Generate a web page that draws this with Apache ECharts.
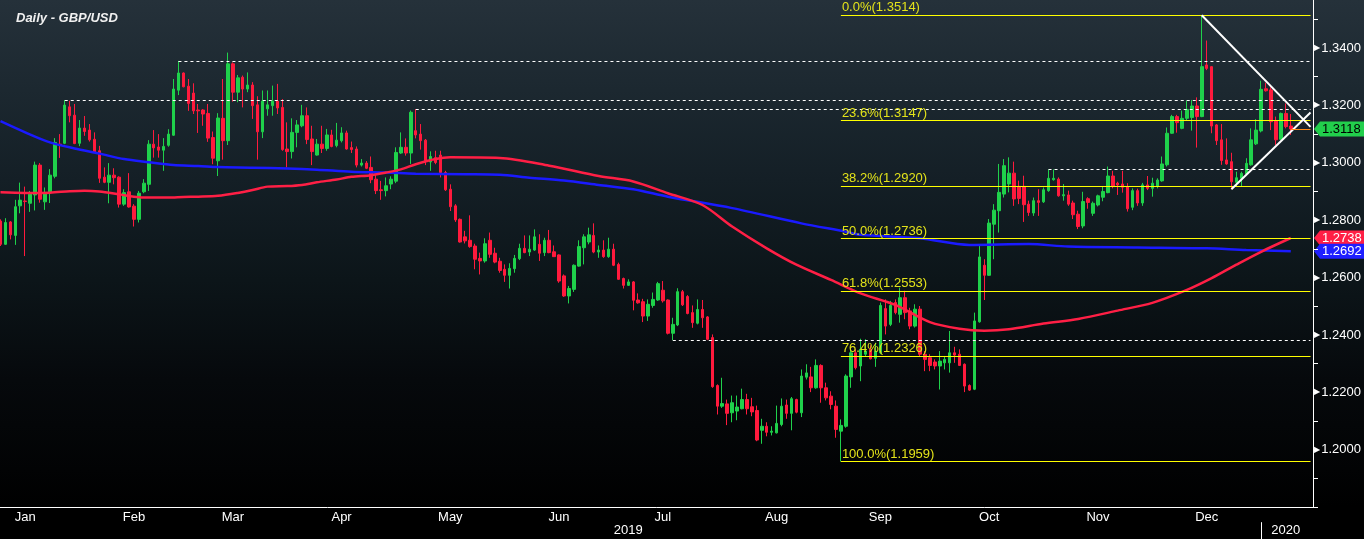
<!DOCTYPE html>
<html>
<head>
<meta charset="utf-8">
<title>Daily - GBP/USD</title>
<script src="https://cdn.jsdelivr.net/npm/echarts@6/dist/echarts.min.js"></script>
<style>
  html, body { margin: 0; padding: 0; background: #000; }
  #main {
    width: 1364px; height: 539px;
    background: linear-gradient(to bottom, #25313a 0px, #1c2830 90px, #141f26 180px, #0c1519 280px, #06090c 380px, #020304 470px, #000 506px, #000 539px);
  }
</style>
</head>
<body>
<div id="main"></div>
<script>
// daily candles, first one is 2019-01-09 ; [open, close, low, high]
const candles = [
  // Jan
  [1.2797,1.2716,1.2710,1.2803],[1.2716,1.2792,1.2714,1.2807],[1.2794,1.2749,1.2733,1.2797],[1.2747,1.2847,1.2714,1.2871],
  [1.2850,1.2870,1.2824,1.2931],[1.2867,1.2865,1.2675,1.2917],[1.2859,1.2891,1.2829,1.2902],[1.2888,1.2992,1.2834,1.3004],
  [1.2992,1.2873,1.2861,1.2999],[1.2864,1.2896,1.2836,1.2914],[1.2896,1.2957,1.2860,1.2978],[1.2953,1.3071,1.2946,1.3086],
  [1.3065,1.3062,1.3017,1.3100],[1.3068,1.3201,1.3065,1.3218],[1.3195,1.3164,1.3141,1.3216],[1.3166,1.3067,1.3065,1.3205],
  [1.3068,1.3121,1.3058,1.3149],
  // Feb
  [1.3121,1.3109,1.3094,1.3163],[1.3114,1.3080,1.3074,1.3135],[1.3082,1.3036,1.3034,1.3106],[1.3042,1.2946,1.2930,1.3059],
  [1.2950,1.2932,1.2929,1.2984],[1.2932,1.2957,1.2859,1.2999],[1.2957,1.2948,1.2925,1.2981],[1.2950,1.2856,1.2844,1.2953],
  [1.2856,1.2896,1.2850,1.2908],[1.2899,1.2846,1.2844,1.2964],[1.2849,1.2803,1.2778,1.2856],[1.2803,1.2894,1.2792,1.2902],
  [1.2899,1.2929,1.2894,1.2943],[1.2925,1.3065,1.2902,1.3079],[1.3065,1.3052,1.3018,1.3114],[1.3055,1.3044,1.3018,1.3100],
  [1.3044,1.3057,1.2972,1.3086],[1.3061,1.3100,1.3056,1.3117],[1.3096,1.3257,1.3094,1.3292],[1.3253,1.3313,1.3236,1.3355],
  // Mar
  [1.3313,1.3265,1.3263,1.3315],[1.3267,1.3207,1.3181,1.3292],[1.3243,1.3181,1.3170,1.3277],[1.3184,1.3181,1.3104,1.3205],
  [1.3184,1.3170,1.3129,1.3187],[1.3172,1.3086,1.3073,1.3205],[1.3088,1.3016,1.2995,1.3109],[1.3007,1.3156,1.2954,1.3173],
  [1.3155,1.3077,1.3011,1.3292],[1.3077,1.3345,1.3062,1.3384],[1.3345,1.3246,1.3213,1.3350],[1.3246,1.3296,1.3211,1.3306],
  [1.3298,1.3257,1.3193,1.3304],[1.3257,1.3271,1.3246,1.3315],[1.3271,1.3199,1.3153,1.3281],[1.3202,1.3108,1.3011,1.3232],
  [1.3108,1.3215,1.3086,1.3252],[1.3188,1.3202,1.3164,1.3252],[1.3199,1.3215,1.3164,1.3269],[1.3215,1.3191,1.3170,1.3275],
  [1.3193,1.3046,1.3042,1.3222],
  // Apr
  [1.3048,1.3039,1.2984,1.3141],[1.3039,1.3106,1.3015,1.3155],[1.3106,1.3132,1.3054,1.3149],[1.3129,1.3164,1.3124,1.3202],
  [1.3164,1.3081,1.3065,1.3193],[1.3083,1.3039,1.2992,1.3129],[1.3027,1.3065,1.3025,1.3083],[1.3065,1.3050,1.3034,1.3129],
  [1.3050,1.3097,1.3042,1.3118],[1.3097,1.3057,1.3054,1.3115],[1.3060,1.3079,1.3054,1.3139],[1.3077,1.3104,1.3071,1.3124],
  [1.3104,1.3048,1.3046,1.3112],[1.3053,1.3046,1.3034,1.3074],[1.3048,1.2992,1.2984,1.3057],[1.2992,1.2999,1.2987,1.3013],
  [1.2999,1.2981,1.2978,1.3006],[1.2984,1.2941,1.2929,1.3022],[1.2943,1.2903,1.2891,1.2961],[1.2906,1.2903,1.2871,1.2937],
  [1.2903,1.2920,1.2883,1.2949],[1.2926,1.2943,1.2908,1.2953],
  // May
  [1.2936,1.3036,1.2929,1.3054],[1.3034,1.3054,1.3031,1.3106],[1.3054,1.3034,1.3025,1.3085],[1.3034,1.3176,1.2996,1.3182],
  [1.3112,1.3097,1.3085,1.3187],[1.3100,1.3077,1.3046,1.3135],[1.3079,1.3007,1.2992,1.3083],[1.3003,1.3022,1.2972,1.3040],
  [1.3018,1.3001,1.2995,1.3042],[1.3027,1.2966,1.2949,1.3042],[1.2966,1.2906,1.2902,1.2972],[1.2908,1.2847,1.2832,1.2925],
  [1.2850,1.2801,1.2794,1.2856],[1.2803,1.2724,1.2722,1.2806],[1.2742,1.2728,1.2719,1.2763],[1.2730,1.2708,1.2704,1.2817],
  [1.2710,1.2664,1.2629,1.2718],[1.2667,1.2658,1.2611,1.2687],[1.2658,1.2718,1.2652,1.2737],[1.2730,1.2681,1.2669,1.2757],
  [1.2685,1.2654,1.2650,1.2704],[1.2657,1.2625,1.2617,1.2669],[1.2629,1.2608,1.2585,1.2646],
  // Jun
  [1.2608,1.2632,1.2562,1.2650],[1.2631,1.2667,1.2617,1.2679],[1.2666,1.2702,1.2661,1.2718],[1.2702,1.2687,1.2685,1.2747],
  [1.2689,1.2699,1.2675,1.2747],[1.2696,1.2742,1.2693,1.2768],[1.2716,1.2685,1.2658,1.2751],[1.2687,1.2730,1.2675,1.2739],
  [1.2730,1.2687,1.2685,1.2766],[1.2690,1.2673,1.2672,1.2712],[1.2679,1.2588,1.2582,1.2681],[1.2606,1.2536,1.2533,1.2611],
  [1.2536,1.2562,1.2510,1.2571],[1.2559,1.2643,1.2550,1.2646],[1.2640,1.2708,1.2638,1.2730],[1.2704,1.2742,1.2646,1.2751],
  [1.2724,1.2749,1.2716,1.2774],[1.2747,1.2689,1.2685,1.2789],[1.2689,1.2696,1.2669,1.2712],[1.2696,1.2673,1.2669,1.2730],
  // Jul
  [1.2673,1.2699,1.2669,1.2739],[1.2699,1.2643,1.2640,1.2718],[1.2646,1.2594,1.2592,1.2652],[1.2597,1.2573,1.2562,1.2600],
  [1.2573,1.2585,1.2571,1.2594],[1.2585,1.2521,1.2486,1.2588],[1.2522,1.2512,1.2509,1.2545],[1.2516,1.2466,1.2445,1.2526],
  [1.2466,1.2507,1.2449,1.2524],[1.2503,1.2524,1.2495,1.2548],[1.2522,1.2579,1.2519,1.2585],[1.2556,1.2519,1.2513,1.2588],
  [1.2522,1.2406,1.2402,1.2524],[1.2406,1.2437,1.2382,1.2460],[1.2435,1.2551,1.2431,1.2563],[1.2551,1.2505,1.2501,1.2557],
  [1.2534,1.2475,1.2472,1.2539],[1.2478,1.2443,1.2425,1.2503],[1.2441,1.2489,1.2437,1.2524],[1.2489,1.2460,1.2425,1.2522],
  [1.2463,1.2385,1.2382,1.2466],[1.2391,1.2220,1.2216,1.2402],[1.2224,1.2152,1.2123,1.2228],
  // Aug
  [1.2152,1.2161,1.2146,1.2251],[1.2160,1.2127,1.2086,1.2175],[1.2129,1.2164,1.2096,1.2189],[1.2135,1.2149,1.2103,1.2189],
  [1.2143,1.2175,1.2141,1.2213],[1.2175,1.2143,1.2123,1.2195],[1.2150,1.2132,1.2117,1.2181],[1.2137,1.2034,1.2030,1.2154],
  [1.2068,1.2082,1.2021,1.2108],[1.2082,1.2061,1.2047,1.2096],[1.2061,1.2065,1.2050,1.2082],[1.2059,1.2092,1.2057,1.2154],
  [1.2088,1.2152,1.2082,1.2179],[1.2156,1.2127,1.2108,1.2175],[1.2127,1.2178,1.2068,1.2184],[1.2175,1.2131,1.2127,1.2178],
  [1.2129,1.2257,1.2114,1.2280],[1.2253,1.2268,1.2245,1.2298],[1.2254,1.2216,1.2201,1.2289],[1.2216,1.2294,1.2213,1.2315],
  [1.2294,1.2216,1.2164,1.2298],[1.2216,1.2181,1.2172,1.2234],
  // Sep
  [1.2187,1.2158,1.2141,1.2204],[1.2152,1.2071,1.2042,1.2172],[1.2065,1.2085,1.1959,1.2106],[1.2082,1.2257,1.2077,1.2263],
  [1.2254,1.2338,1.2216,1.2350],[1.2338,1.2286,1.2280,1.2350],[1.2292,1.2350,1.2239,1.2387],[1.2333,1.2344,1.2327,1.2385],
  [1.2350,1.2317,1.2315,1.2364],[1.2319,1.2344,1.2289,1.2373],[1.2338,1.2503,1.2333,1.2513],[1.2492,1.2431,1.2402,1.2524],
  [1.2437,1.2503,1.2431,1.2519],[1.2513,1.2478,1.2472,1.2524],[1.2472,1.2530,1.2443,1.2565],[1.2530,1.2478,1.2455,1.2554],
  [1.2484,1.2431,1.2420,1.2495],[1.2431,1.2490,1.2426,1.2507],[1.2490,1.2333,1.2327,1.2501],[1.2333,1.2315,1.2274,1.2344],
  [1.2321,1.2294,1.2274,1.2333],
  // Oct
  [1.2306,1.2292,1.2280,1.2315],[1.2292,1.2309,1.2210,1.2344],[1.2303,1.2315,1.2280,1.2327],[1.2303,1.2338,1.2269,1.2414],
  [1.2338,1.2330,1.2303,1.2359],[1.2333,1.2294,1.2292,1.2350],[1.2298,1.2222,1.2201,1.2301],[1.2224,1.2208,1.2205,1.2228],
  [1.2211,1.2449,1.2208,1.2478],[1.2446,1.2672,1.2443,1.2711],[1.2643,1.2608,1.2522,1.2664],[1.2608,1.2790,1.2606,1.2804],
  [1.2786,1.2835,1.2664,1.2856],[1.2833,1.2897,1.2757,1.2996],[1.2891,1.2990,1.2879,1.3013],[1.2926,1.2964,1.2897,1.3019],
  [1.2964,1.2874,1.2850,1.3004],[1.2918,1.2876,1.2856,1.2938],[1.2918,1.2854,1.2794,1.2955],[1.2856,1.2827,1.2815,1.2868],
  [1.2825,1.2868,1.2815,1.2879],[1.2868,1.2862,1.2815,1.2908],[1.2864,1.2906,1.2860,1.2914],
  // Nov
  [1.2903,1.2946,1.2899,1.2977],[1.2941,1.2946,1.2938,1.2977],[1.2943,1.2885,1.2882,1.2949],[1.2885,1.2889,1.2868,1.2926],
  [1.2888,1.2856,1.2850,1.2903],[1.2860,1.2819,1.2804,1.2868],[1.2821,1.2778,1.2769,1.2833],[1.2780,1.2865,1.2772,1.2899],
  [1.2875,1.2862,1.2840,1.2880],[1.2824,1.2859,1.2815,1.2865],[1.2853,1.2885,1.2848,1.2889],[1.2880,1.2900,1.2866,1.2919],
  [1.2896,1.2954,1.2894,1.2987],[1.2954,1.2917,1.2911,1.2972],[1.2929,1.2923,1.2888,1.2934],[1.2926,1.2915,1.2896,1.2972],
  [1.2917,1.2840,1.2830,1.2929],[1.2845,1.2903,1.2835,1.2911],[1.2903,1.2860,1.2850,1.2910],[1.2860,1.2923,1.2850,1.2930],
  [1.2923,1.2911,1.2905,1.2954],
  // Dec
  [1.2911,1.2929,1.2882,1.2948],[1.2919,1.2940,1.2911,1.2946],[1.2937,1.2996,1.2934,1.3022],[1.2993,1.3103,1.2987,1.3123],
  [1.3103,1.3161,1.3101,1.3167],[1.3161,1.3140,1.3105,1.3167],[1.3120,1.3155,1.3117,1.3182],[1.3155,1.3186,1.3149,1.3217],
  [1.3158,1.3198,1.3112,1.3219],[1.3198,1.3161,1.3053,1.3228],[1.3161,1.3335,1.3159,1.3514],[1.3341,1.3329,1.3323,1.3426],
  [1.3335,1.3128,1.3103,1.3337],[1.3132,1.3077,1.3062,1.3135],[1.3080,1.3008,1.2993,1.3135],[1.3010,1.2996,1.2993,1.3085],
  [1.3004,1.2934,1.2908,1.3035],[1.2932,1.2948,1.2917,1.2969],[1.2946,1.2963,1.2917,1.2969],[1.2961,1.2998,1.2958,1.3016],
  [1.2993,1.3080,1.2990,1.3120],[1.3066,1.3114,1.3062,1.3152],
  // Jan 2020
  [1.3111,1.3256,1.3106,1.3286],[1.3258,1.3251,1.3248,1.3279],[1.3254,1.3143,1.3114,1.3263],[1.3147,1.3080,1.3062,1.3161],
  [1.3082,1.3172,1.3080,1.3175],[1.3172,1.3126,1.3120,1.3207],[1.3128,1.3118,1.3097,1.3170]
];

// moving averages: [candle index, value]
const ma200 = [
  [0,1.3145],[5,1.3106],[10,1.3071],[15,1.3050],[20,1.3032],[25,1.3013],[30,1.3002],[35,1.2992],[40,1.2989],
  [44,1.2985],[51,1.2983],[58,1.2980],[64,1.2976],[71,1.2969],[78,1.2966],[84,1.2962],[94,1.2960],[101,1.2958],
  [107,1.2948],[114,1.2938],[121,1.2923],[128,1.2908],[135,1.2882],[148,1.2842],[162,1.2789],[171,1.2760],
  [174,1.2749],[186,1.2737],[196,1.2714],[208,1.2717],[216,1.2708],[230,1.2705],[244,1.2702],[252,1.2696],[261,1.2692]
];
const ma100 = [
  [0,1.2897],[5,1.2895],[10,1.2896],[14,1.2901],[17,1.2903],[20,1.2900],[24,1.2890],[27,1.2882],[30,1.2879],
  [34,1.2879],[37,1.2881],[40,1.2882],[44,1.2885],[48,1.2895],[51,1.2905],[54,1.2917],[58,1.2919],[61,1.2923],
  [64,1.2932],[68,1.2942],[71,1.2951],[75,1.2957],[78,1.2966],[81,1.2977],[84,1.2995],[88,1.3013],[91,1.3019],
  [101,1.3017],[111,1.2990],[121,1.2954],[128,1.2935],[135,1.2894],[142,1.2853],[148,1.2778],[155,1.2702],
  [161,1.2645],[168,1.2592],[174,1.2545],[181,1.2505],[188,1.2445],[194,1.2422],[199,1.2415],[204,1.2420],
  [211,1.2440],[218,1.2456],[226,1.2485],[233,1.2512],[240,1.2557],[245,1.2598],[250,1.2645],[255,1.2690],[261,1.2738]
];

// fibonacci retracement of the Sep low -> Dec high, drawn from the low candle
const fibStart = 170;
const fibLevels = [['0.0%',1.3514],['23.6%',1.3147],['38.2%',1.2920],['50.0%',1.2736],['61.8%',1.2553],['76.4%',1.2326],['100.0%',1.1959]];
// dotted horizontal levels: [from candle, price]
const dottedLevels = [[13,1.3218],[36,1.3355],[84,1.3187],[136,1.2382],[212,1.2977]];
// triangle: [[idx, price], [idx, price]]
const triUpper = [[243,1.3514],[265,1.3125]];
const triLower = [[249,1.2908],[265,1.3175]];
const lastPrice = 1.3118;
// value tags on the price axis: [value, fill, text colour]
const priceTags = [[1.2738, '#ff1f45', '#ffffff'], [1.2692, '#1f1fff', '#ffffff'], [lastPrice, '#22cf4c', '#000000']];

const monthNames = ['Jan','Feb','Mar','Apr','May','Jun','Jul','Aug','Sep','Oct','Nov','Dec'];
const firstDay = '2019-01-09';
const padDays = 4;

// trading days (all weekdays)
const allDays = [];
for (let d = new Date(Date.UTC(2019, 0, 1)); d < new Date(Date.UTC(2020, 1, 1)); d.setUTCDate(d.getUTCDate() + 1)) {
  const wd = d.getUTCDay();
  if (wd !== 0 && wd !== 6) allDays.push(d.toISOString().slice(0, 10));
}
const start = allDays.indexOf(firstDay);
const dates = allDays.slice(start, start + candles.length + padDays);
const lastIdx = dates.length - 1;

const months = [];
allDays.forEach((day, k) => {
  const key = day.slice(0, 7), i = k - start;
  const cur = months[months.length - 1];
  if (!cur || cur.key !== key) months.push({ key: key, first: i, last: i });
  else cur.last = i;
});
const monthTicks = new Set(months.map(m => m.first).filter(i => i > 0 && i <= lastIdx));
const monthLabels = {};
months.filter(m => m.key.startsWith('2019')).forEach(m => {
  monthLabels[Math.ceil((m.first + m.last) / 2)] = monthNames[+m.key.slice(5) - 1];
});
const yearLabels = {};
let yearTick = -1;
['2019', '2020'].forEach(y => {
  const idx = dates.map((d, i) => d.startsWith(y) ? i : -1).filter(i => i >= 0);
  yearLabels[Math.ceil((idx[0] + idx[idx.length - 1]) / 2)] = y;
  if (y === '2020') yearTick = idx[0];
});

const up = '#1fd14b', down = '#ff1a3d', font = 'Liberation Sans';

function hline(from, v, lineStyle, label) {
  return [{ coord: [dates[from], v], lineStyle: lineStyle, label: label || { show: false } },
          { coord: [dates[lastIdx], v] }];
}

const markLines = [];
fibLevels.forEach(f => {
  markLines.push(hline(fibStart, f[1], { color: '#ffff00', width: 1, type: 'solid' }, {
    show: true, position: 'insideStartTop', distance: 1,
    formatter: f[0] + '(' + f[1].toFixed(4) + ')',
    color: '#e3e31a', fontSize: 13, fontFamily: font
  }));
});
dottedLevels.forEach(l => {
  markLines.push(hline(l[0], l[1], { color: '#ffffff', width: 1, type: [3, 3] }));
});
[triUpper, triLower].forEach(t => {
  markLines.push([{ coord: [dates[t[0][0]], t[0][1]], lineStyle: { color: '#ffffff', width: 2, type: 'solid' }, label: { show: false } },
                  { coord: [dates[t[1][0]], t[1][1]] }]);
});
markLines.push(hline(candles.length - 1, lastPrice, { color: '#ff8a1a', width: 1, type: 'solid' }));

const chart = echarts.init(document.getElementById('main'), null, { renderer: 'canvas' });
chart.setOption({
  animation: false,
  backgroundColor: 'transparent',
  title: {
    text: 'Daily - GBP/USD', left: 11, top: 7,
    textStyle: { color: '#f0f0f0', fontSize: 13, fontStyle: 'italic', fontWeight: 'bold', fontFamily: font }
  },
  grid: { left: -2, right: 51, top: -9.4, bottom: 31.8, outerBoundsMode: 'none' },
  xAxis: [{
    type: 'category', data: dates, boundaryGap: true,
    axisLine: { lineStyle: { color: '#ffffff', width: 1 } },
    axisTick: { alignWithLabel: true, length: 3, lineStyle: { color: '#ffffff' },
                interval: i => monthTicks.has(i) },
    axisLabel: { interval: i => i in monthLabels, formatter: (v, i) => monthLabels[i] || '',
                 color: '#ffffff', fontSize: 13, fontFamily: font, margin: 4 },
    splitLine: { show: false }
  }, {
    type: 'category', data: dates, boundaryGap: true, position: 'bottom', offset: 15,
    axisLine: { show: false },
    axisTick: { show: true, alignWithLabel: true, length: 17, lineStyle: { color: '#ffffff' },
                interval: i => i === yearTick },
    axisLabel: { interval: i => i in yearLabels, formatter: (v, i) => yearLabels[i] || '',
                 color: '#ffffff', fontSize: 13, fontFamily: font, margin: 2 },
    splitLine: { show: false }
  }],
  yAxis: {
    type: 'value', position: 'right', min: 1.18, max: 1.36, interval: 0.01, scale: true,
    axisLine: { show: true, lineStyle: { color: '#ffffff' } },
    axisTick: { show: true, length: 5, lineStyle: { color: '#ffffff' } },
    axisLabel: {
      color: '#ffffff', fontSize: 13, fontFamily: font, margin: 1,
      formatter: v => {
        const k = Math.round(v * 100);
        if (k % 2 !== 0 || k === 118 || k === 136) return '';
        return '{t|▶}' + v.toFixed(4);
      },
      rich: { t: { color: '#ffffff', fontSize: 8, fontFamily: 'DejaVu Sans', padding: [0, 1, 0, 0] } }
    },
    splitLine: { show: false }
  },
  series: [{
    type: 'line', name: 'MA200', data: ma200, showSymbol: false, symbol: 'none', smooth: 0.3,
    lineStyle: { color: '#1a1aff', width: 2.5 }
  }, {
    type: 'line', name: 'MA100', data: ma100, showSymbol: false, symbol: 'none', smooth: 0.3,
    lineStyle: { color: '#ff1f45', width: 2.5 }
  }, {
    type: 'candlestick', name: 'GBP/USD', data: candles, barWidth: 3,
    itemStyle: { color: up, color0: down, borderColor: up, borderColor0: down, borderWidth: 1 },
    markLine: { silent: true, symbol: ['none', 'none'], animation: false, data: markLines }
  }]
});

// arrow-shaped value tags hanging off the price axis, placed with the chart's own scales
const band = chart.convertToPixel({ xAxisIndex: 0 }, dates[1]) - chart.convertToPixel({ xAxisIndex: 0 }, dates[0]);
const axisX = chart.convertToPixel({ xAxisIndex: 0 }, dates[lastIdx]) + band / 2;
const rightX = chart.getWidth();
chart.setOption({
  graphic: priceTags.map((t, k) => {
    const y = chart.convertToPixel({ yAxisIndex: 0 }, t[0]);
    return {
      type: 'group', z: 100 + k, silent: true,
      children: [{
        type: 'polygon',
        shape: { points: [[axisX + 1, y], [axisX + 7, y - 7.5], [rightX, y - 7.5], [rightX, y + 7.5], [axisX + 7, y + 7.5]] },
        style: { fill: t[1] }
      }, {
        type: 'text', x: axisX + 9, y: y,
        style: { text: t[0].toFixed(4), fill: t[2], font: '13px "Liberation Sans"', verticalAlign: 'middle', align: 'left' }
      }]
    };
  })
});
</script>
</body>
</html>
